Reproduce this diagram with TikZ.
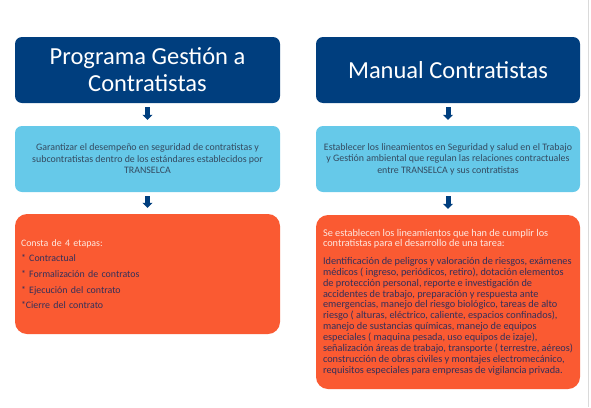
\documentclass[tikz,border=0pt]{standalone}
\usepackage{fontspec}
\setmainfont{Carlito}
\usetikzlibrary{arrows.meta}
\definecolor{navy}{HTML}{003E7E}
\definecolor{skyb}{HTML}{66C9E9}
\definecolor{orng}{HTML}{FA5A32}
\definecolor{bluetxt}{HTML}{344A60}
\definecolor{orgtxt}{HTML}{33305A}
\definecolor{orghead}{HTML}{FDE8E0}
\definecolor{rule}{HTML}{DADADA}
\tikzset{
  titlebox/.style={fill=navy, rounded corners=7pt, minimum height=66pt, minimum width=265pt, inner sep=0pt, align=center, text=white, font=\fontsize{24.5}{27}\selectfont},
  goalbox/.style={fill=skyb, rounded corners=7pt, minimum height=66pt, minimum width=265pt, inner sep=0pt, align=center, text=bluetxt, font=\fontsize{9.9}{11.5}\selectfont},
  detailbox/.style={fill=orng, rounded corners=12pt, minimum width=265pt, inner sep=0pt, align=left, text=orgtxt, font=\fontsize{10.3}{10.9}\selectfont},
  flowarrow/.style={navy, line width=5pt, -{Triangle[width=10pt,length=5pt]}, shorten <=4pt, shorten >=6pt}
}
\begin{document}
\begin{tikzpicture}[x=1pt,y=-1pt]
\useasboundingbox (0,0) rectangle (591,407);
\draw[rule, line width=1pt] (588.5,0) -- (588.5,407);
% left column
\node[titlebox] (t1) at (147.5,70) {Programa Gestión a\\Contratistas};
\node[goalbox] (g1) at (147.5,159) {Garantizar el desempeño en seguridad de contratistas y\\subcontratistas dentro de los estándares establecidos por\\TRANSELCA};
\node[detailbox, minimum height=120pt, text width=253pt, inner xsep=6pt, font=\fontsize{9.9}{15.6}\selectfont] (d1) at (147.5,274) {\textcolor{orghead}{Consta de 4 etapas:}\\\relax* Contractual\\\relax* Formalización de contratos\\\relax* Ejecución del contrato\\\relax*Cierre del contrato};
% right column
\node[titlebox, minimum width=264pt] (t2) at (448,70) {Manual Contratistas};
\node[goalbox, minimum width=264pt] (g2) at (448,159) {Establecer los lineamientos en Seguridad y salud en el Trabajo\\y Gestión ambiental que regulan las relaciones contractuales\\entre TRANSELCA y sus contratistas};
\node[detailbox, minimum width=264pt, minimum height=174pt] (d2) at (448,302) {\textcolor{orghead}{Se establecen los lineamientos que han de cumplir los}\\\textcolor{orghead}{contratistas para el desarrollo de una tarea:}\\[6.5pt]Identificación de peligros y valoración de riesgos, exámenes\\médicos ( ingreso, periódicos, retiro), dotación elementos\\de protección personal, reporte e investigación de\\accidentes de trabajo, preparación y respuesta ante\\emergencias, manejo del riesgo biológico, tareas de alto\\riesgo ( alturas, eléctrico, caliente, espacios confinados),\\manejo de sustancias químicas, manejo de equipos\\especiales ( maquina pesada, uso equipos de izaje),\\señalización áreas de trabajo, transporte ( terrestre, aéreos)\\construcción de obras civiles y montajes electromecánico,\\requisitos especiales para empresas de vigilancia privada.};
% connectors
\draw[flowarrow] (t1) -- (g1);
\draw[flowarrow] (g1) -- (d1);
\draw[flowarrow] (t2) -- (g2);
\draw[flowarrow] (g2) -- (d2);
\end{tikzpicture}
\end{document}
